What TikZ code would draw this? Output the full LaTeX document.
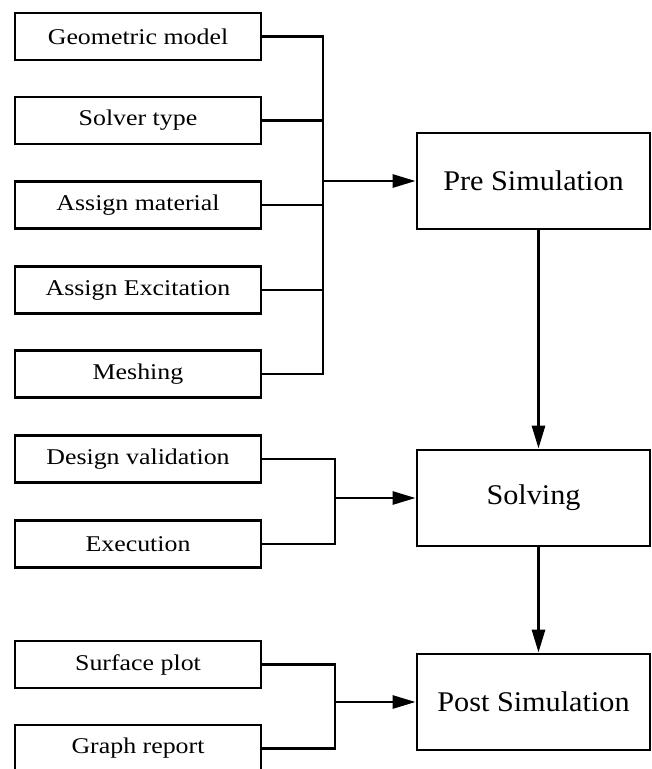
\documentclass[tikz,border=0pt]{standalone}
\usepackage{fontspec}
\setmainfont{Liberation Serif}
\newfontfamily\smallfam[FakeStretch=1.15]{Liberation Serif}
\newfontfamily\bigfam[FakeStretch=1.06]{Liberation Serif}
\usetikzlibrary{arrows.meta}
\begin{document}
\begin{tikzpicture}[x=1pt,y=-1pt,
  inbox/.style={draw,line width=2.8pt,minimum width=246pt,minimum height=47pt,inner sep=0pt,
    font=\smallfam\fontsize{22.5}{24}\selectfont},
  stagebox/.style={draw,line width=2.8pt,minimum width=233pt,minimum height=96pt,inner sep=0pt,
    font=\bigfam\fontsize{28.5}{30}\selectfont},
  conn/.style={line width=2.8pt},
  arr/.style={line width=2.8pt,-{Triangle[length=23pt,width=13pt]}}]
\useasboundingbox (0,0) rectangle (652,769);
\fill[white] (0,0) rectangle (652,769);
% left input boxes
\node[inbox] (geom) at (138,36.5) {Geometric model};
\node[inbox] (solver) at (138,120.5) {Solver type};
\node[inbox] (mat) at (138,205) {Assign material};
\node[inbox] (exc) at (138,290) {Assign Excitation};
\node[inbox] (mesh) at (138,374) {Meshing};
\node[inbox] (design) at (138,459) {Design validation};
\node[inbox] (exe) at (138,544) {Execution};
\node[inbox] (surf) at (138,664.5) {Surface plot};
\node[inbox] (graph) at (138,748.5) {Graph report};
% stage boxes
\node[stagebox] (pre) at (533.5,181) {Pre Simulation};
\node[stagebox] (solve) at (533.5,498) {Solving};
\node[stagebox] (post) at (533.5,702) {Post Simulation};
% bus coordinates
\coordinate (busA) at (323,181);
\coordinate (busB) at (335,498);
\coordinate (busC) at (335,702);
% group 1
\draw[conn] (geom.east) -| (busA) |- (mesh.east);
\draw[conn] (solver.east) -- (solver.east -| busA);
\draw[conn] (mat.east) -- (mat.east -| busA);
\draw[conn] (exc.east) -- (exc.east -| busA);
\draw[arr] (busA) -- (pre.west);
% group 2
\draw[conn] (design.east) -| (busB) |- (exe.east);
\draw[arr] (busB) -- (solve.west);
% group 3
\draw[conn] (surf.east) -| (busC) |- (graph.east);
\draw[arr] (busC) -- (post.west);
% vertical flow
\draw[arr] ([xshift=5pt]pre.south) -- ([xshift=5pt]solve.north);
\draw[arr] ([xshift=5pt]solve.south) -- ([xshift=5pt]post.north);
\end{tikzpicture}
\end{document}
